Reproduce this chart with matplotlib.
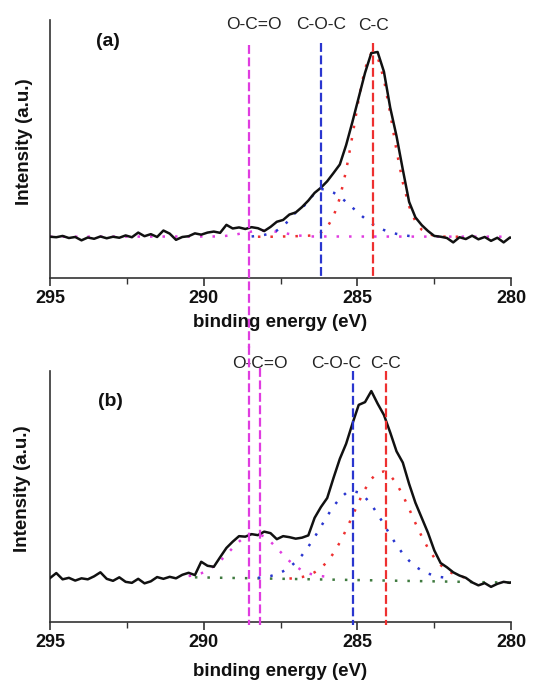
import numpy as np
import matplotlib
matplotlib.use("Agg")
import matplotlib.pyplot as plt

plt.rcParams['font.family'] = ['Liberation Sans', 'DejaVu Sans']

# binding energy grid of the measured spectra (eV)
energy = np.array([
    295.000, 294.795, 294.590, 294.385, 294.180, 293.975, 293.770, 293.565,
    293.360, 293.155, 292.950, 292.745, 292.540, 292.335, 292.130, 291.925,
    291.720, 291.515, 291.310, 291.105, 290.900, 290.695, 290.490, 290.285,
    290.080, 289.875, 289.670, 289.465, 289.260, 289.055, 288.850, 288.645,
    288.440, 288.235, 288.030, 287.825, 287.620, 287.415, 287.210, 287.005,
    286.800, 286.595, 286.390, 286.185, 285.980, 285.775, 285.570, 285.365,
    285.160, 284.955, 284.750, 284.545, 284.340, 284.135, 283.930, 283.725,
    283.520, 283.315, 283.110, 282.905, 282.700, 282.495, 282.290, 282.085,
    281.880, 281.675, 281.470, 281.265, 281.060, 280.855, 280.650, 280.445,
    280.240, 280.035, 279.830, 279.625])

# (a) measured spectrum
spec_a = [
    16.0, 15.8, 16.3, 15.5, 15.9, 14.6, 15.7, 15.2, 16.1, 15.4,
    16.0, 15.6, 16.5, 15.8, 17.6, 16.2, 17.0, 15.9, 18.4, 17.2,
    14.8, 15.9, 16.2, 17.3, 16.8, 17.6, 18.0, 17.5, 20.6, 19.2,
    19.6, 19.0, 19.7, 19.3, 18.2, 19.8, 21.8, 22.5, 24.6, 25.4,
    27.5, 30.0, 33.0, 35.0, 37.5, 40.7, 44.0, 51.5, 60.5, 70.0,
    79.5, 87.2, 87.6, 80.0, 66.0, 55.0, 42.0, 29.5, 23.5, 20.5,
    18.2, 16.3, 16.0, 15.5, 13.8, 15.8, 15.1, 16.4, 15.0, 15.9,
    14.4, 15.6, 13.8, 15.7, 15.2, 15.4]

# (a) fitted components
oco_a_e = [295.0, 289.465, 289.055, 288.645, 288.235, 287.825, 287.415,
           287.005, 286.595, 279.625]
oco_a = [16.0, 16.1, 16.6, 17.6, 18.4, 18.3, 17.5, 16.6, 16.1, 16.0]
coc_a = [16.1, 16.3, 16.7, 17.3, 18.4, 20.2, 22.5, 25.5, 27.0, 30.0,
         32.8, 34.5, 34.2, 33.1, 31.5, 29.5, 27.3, 25.1, 23.0, 21.2,
         19.7, 18.6, 17.7, 17.1, 16.6, 16.3, 16.1]
cc_a = [16.0, 16.0, 16.0, 16.0, 16.1, 16.1, 16.2, 16.3, 16.4,
        16.6, 17.6, 19.7, 23.9, 31.0, 41.6, 55.1, 69.4, 81.2, 87.2,
        85.7, 77.0, 63.8, 49.4, 37.0, 27.8, 21.9, 18.7, 17.1, 16.4,
        16.1, 16.0, 16.0, 16.0]

# (b) measured spectrum
spec_b = [
    17.5, 19.5, 17.0, 17.6, 16.5, 17.4, 17.0, 18.2, 19.8, 17.2,
    16.4, 17.8, 16.0, 15.6, 17.2, 15.4, 16.2, 17.9, 17.2, 18.0,
    17.4, 18.8, 19.6, 18.7, 24.0, 22.4, 22.0, 25.8, 29.5, 32.0,
    34.2, 34.0, 35.0, 34.6, 36.0, 35.4, 33.0, 34.2, 33.8, 33.2,
    33.6, 34.5, 41.5, 45.8, 49.4, 57.4, 65.0, 71.0, 79.0, 86.5,
    87.6, 92.0, 87.0, 82.5, 75.5, 68.0, 63.5, 55.0, 47.5, 41.5,
    35.5, 28.5, 23.5, 21.8, 19.8, 18.5, 17.6, 15.8, 14.6, 15.5,
    14.0, 15.2, 16.0, 15.6, 16.8, 16.2]

# (b) background and fitted components
bg_b_e = [290.285, 279.625]
bg_b = [17.8, 15.6]
oco_b = [18.3, 18.7, 19.4, 20.5, 22.2, 24.3, 26.8, 29.5, 32.0, 34.1,
         35.1, 35.1, 34.1, 32.0, 29.5, 26.8, 24.3, 22.2, 20.5, 19.4,
         18.7, 18.3, 18.0]
coc_b = [17.6, 17.9, 18.3, 19.1, 20.2, 21.8, 23.9, 26.6, 30.0, 33.8,
         38.0, 42.2, 46.1, 49.2, 51.4, 52.2, 51.6, 49.7, 46.8, 43.0,
         38.9, 34.6, 30.7, 27.2, 24.4, 22.1, 20.5, 19.3, 18.5, 17.9, 17.6]
cc_b = [17.3, 17.5, 17.9, 18.6, 19.8, 21.5, 24.0, 27.4, 31.7, 36.7,
        42.2, 47.8, 52.9, 57.0, 59.4, 60.0, 58.4, 55.2, 50.5, 45.1,
        39.4, 34.1, 29.4, 25.6, 22.7, 20.6, 19.2, 18.2, 17.7, 17.3]

# peak positions (eV) marked with dashed lines
peak_labels = ["O-C=O", "C-O-C", "C-C"]
lines_a = [288.53, 286.18, 284.49]
lines_b = [288.53, 288.17, 285.15, 284.07]
label_pos_a = [288.38, 286.18, 284.47]
label_pos_b = [288.17, 285.68, 284.08]

mag = '#e03ce0'
blue = '#2a36cf'
red = '#ee3030'
dash = (0, (4, 1.6))
dots = (0, (1, 4))

fig = plt.figure(figsize=(5.37, 6.85), dpi=100)
ax_a = fig.add_axes([50/537, 1 - 278/685, 461/537, 258/685])
ax_b = fig.add_axes([50/537, 1 - 622/685, 461/537, 251/685])


def style_axis(ax):
    ax.set_xlim(295, 280)
    ax.set_ylim(0, 100)
    for s in ['top', 'right']:
        ax.spines[s].set_visible(False)
    for s in ['left', 'bottom']:
        ax.spines[s].set_linewidth(1.2)
        ax.spines[s].set_color('#333333')
    ax.set_xticks([295, 290, 285, 280])
    ax.set_xticks([292.5, 287.5, 282.5], minor=True)
    ax.tick_params(axis='x', which='major', length=6, width=1.2,
                   direction='out', pad=2.5, labelsize=13, colors='#333333',
                   labelcolor='#111111')
    ax.tick_params(axis='x', which='minor', length=4, width=1.0,
                   direction='out', colors='#333333')
    ax.set_yticks([])
    for lbl in ax.get_xticklabels():
        lbl.set_fontweight('bold')
    ax.set_xlabel("binding energy (eV)", fontsize=13.5, fontweight='bold',
                  color='#111111')
    ax.set_ylabel("Intensity (a.u.)", fontsize=13.5, fontweight='bold',
                  color='#111111')
    ax.xaxis.label.set_va('center')
    ax.yaxis.label.set_va('center')


# ---- panel (a)
style_axis(ax_a)
ax_a.plot(oco_a_e, oco_a, color=mag, lw=1.8, ls=dots, zorder=2)
ax_a.plot(energy[32:59], coc_a, color=blue, lw=1.8, ls=dots, zorder=2)
ax_a.plot(energy[33:66], cc_a, color=red, lw=1.8, ls=dots, zorder=2)
ax_a.plot(energy, spec_a, color='#111111', lw=1.8, zorder=3)

ax_a.plot([lines_a[0]] * 2, [90.3, -27], color=mag, lw=1.6, ls=dash,
          clip_on=False, zorder=5)
ax_a.plot([lines_a[1]] * 2, [91, 0], color=blue, lw=1.6, ls=dash, zorder=5)
ax_a.plot([lines_a[2]] * 2, [91, 0], color=red, lw=1.6, ls=dash, zorder=5)
for lab, xp, yp in zip(peak_labels, label_pos_a, [98.4, 98.4, 97.7]):
    ax_a.text(xp, yp, lab, ha='center', va='center', fontsize=12.5,
              color='#222222', clip_on=False)
ax_a.text(0.125, 0.915, "(a)", transform=ax_a.transAxes, ha='center',
          va='center', fontsize=14, fontweight='bold', color='#111111')
ax_a.xaxis.set_label_coords(0.5, -0.174)
ax_a.yaxis.set_label_coords(-0.056, 0.527)

# ---- panel (b)
style_axis(ax_b)
ax_b.plot(bg_b_e, bg_b, color='#3f7a3f', lw=1.8, ls=dots, zorder=2)
ax_b.plot(energy[22:45], oco_b, color=mag, lw=1.8, ls=dots, zorder=2)
ax_b.plot(energy[33:64], coc_b, color=blue, lw=1.8, ls=dots, zorder=2)
ax_b.plot(energy[38:68], cc_b, color=red, lw=1.8, ls=dots, zorder=2)
ax_b.plot(energy, spec_b, color='#111111', lw=1.8, zorder=3)

ax_b.plot([lines_b[0]] * 2, [110, -1], color=mag, lw=1.6, ls=dash,
          clip_on=False, zorder=5)
ax_b.plot([lines_b[1]] * 2, [101, -1], color=mag, lw=1.6, ls=dash,
          clip_on=False, zorder=5)
ax_b.plot([lines_b[2]] * 2, [100, -1], color=blue, lw=1.6, ls=dash,
          clip_on=False, zorder=5)
ax_b.plot([lines_b[3]] * 2, [100, -1], color=red, lw=1.6, ls=dash,
          clip_on=False, zorder=5)
for lab, xp in zip(peak_labels, label_pos_b):
    ax_b.text(xp, 102.8, lab, ha='center', va='center', fontsize=12.5,
              color='#222222', clip_on=False)
ax_b.text(0.131, 0.877, "(b)", transform=ax_b.transAxes, ha='center',
          va='center', fontsize=14, fontweight='bold', color='#111111')
ax_b.xaxis.set_label_coords(0.5, -0.199)
ax_b.yaxis.set_label_coords(-0.06, 0.53)

fig.savefig("out.png", dpi=100)
